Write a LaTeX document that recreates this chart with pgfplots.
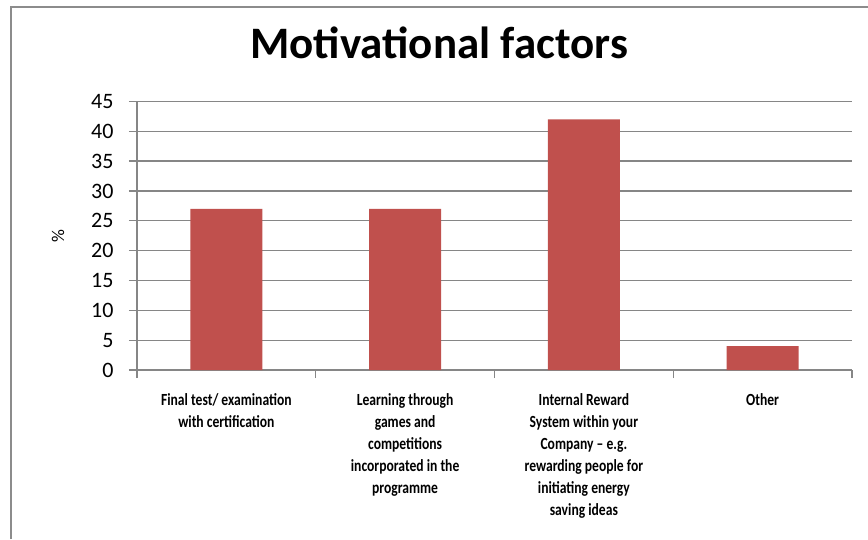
\documentclass[border=0pt]{standalone}
\usepackage{fontspec}
\setmainfont{Carlito}
\newfontfamily\condfont[FakeStretch=0.8,Ligatures=TeX]{Carlito}
\usepackage{pgfplots}
\pgfplotsset{compat=1.18}
\definecolor{barred}{HTML}{C0504D}
\definecolor{gridgray}{HTML}{868686}
\definecolor{framegray}{HTML}{8C8C8C}
\begin{document}
\begin{tikzpicture}[x=1pt,y=1pt]
\useasboundingbox (0,0) rectangle (868,539);
\draw[framegray, line width=2.5pt] (11,0) -- (11,532) -- (868,532);
\node[font=\fontsize{45}{47}\selectfont\bfseries, anchor=base] at (439,480) {Motivational factors};
\begin{axis}[
  at={(137pt,169pt)}, anchor=south west,
  width=715pt, height=268.6pt, scale only axis,
  xmin=-0.5, xmax=3.5, ymin=0, ymax=45,
  ytick={0,5,...,45},
  axis x line*=bottom, axis y line*=left,
  axis line style={gridgray, line width=1.2pt},
  ymajorgrids, grid style={gridgray, line width=1.2pt},
  tick align=outside, major tick length=8pt,
  tick style={gridgray, line width=1.2pt},
  xtick={0,1,2,3},
  major x tick style={draw=none},
  minor xtick={-0.5,0.5,1.5,2.5,3.5},
  minor tick length=8pt,
  xticklabels={
    {Final test/ examination\\with certification},
    {Learning through\\games and\\competitions\\incorporated in the\\programme},
    {Internal Reward\\System within your\\Company – e.g.\\rewarding people for\\initiating energy\\saving ideas},
    {Other}},
  xticklabel style={font=\condfont\fontsize{17}{22}\selectfont\bfseries, align=center, anchor=north, yshift=-12pt},
  yticklabel style={font=\fontsize{22}{24}\selectfont, xshift=-12pt},
  /pgf/number format/assume math mode=true,
  ylabel={\%},
  ylabel style={at={(axis description cs:0,0.5)}, anchor=center, yshift=79pt, font=\fontsize{18}{20}\selectfont},
  ybar, bar width=72pt,
]
\addplot[fill=barred, draw=none] coordinates {(0,27) (1,27) (2,42) (3,4)};
\end{axis}
\end{tikzpicture}
\end{document}
